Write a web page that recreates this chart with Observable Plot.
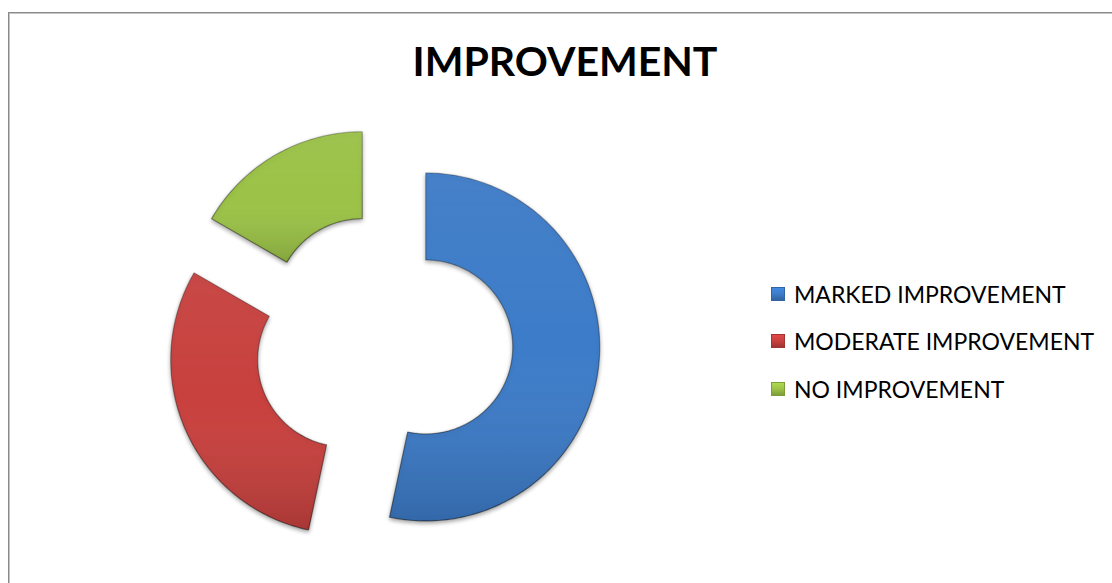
<!DOCTYPE html>
<html>
<head>
<meta charset="utf-8">
<script src="https://cdn.jsdelivr.net/npm/d3@7"></script>
<script src="https://cdn.jsdelivr.net/npm/@observablehq/plot@0.6"></script>
<style>
  html, body { margin: 0; padding: 0; background: #fff; }
  #wrap { position: relative; width: 1112px; height: 583px; overflow: hidden; font-family: Lato, "Open Sans", "DejaVu Sans", sans-serif; }
  #frame { position: absolute; left: 8px; top: 12px; width: 1200px; height: 700px; border-left: 1px solid #8a8a8a; border-top: 1px solid #8a8a8a; box-shadow: inset 1px 1px 0 #c4c4c4; pointer-events: none; }
  #title { position: absolute; left: 0; width: 1130px; top: 36px; text-align: center; font-weight: 700; font-size: 41px; color: #000; }
  #legend { position: absolute; left: 771px; top: 270px; }
  .item { display: flex; align-items: center; height: 47.5px; font-size: 23px; color: #000; white-space: nowrap; }
  .sw { width: 14px; height: 14px; margin-right: 9px; box-sizing: border-box; }
  #chart { position: absolute; left: 0; top: 0; }
  g[aria-label="line"] { filter: drop-shadow(0px 2px 2px rgba(0,0,0,0.35)); }
</style>
</head>
<body>
<div id="wrap">
  <div id="chart"></div>
  <div id="frame"></div>
  <div id="title"></div>
  <div id="legend"></div>
</div>
<script>
// ---- data ----
const title = "IMPROVEMENT";
const categories = ["MARKED IMPROVEMENT", "MODERATE IMPROVEMENT", "NO IMPROVEMENT"];
const values = [32, 18, 10];
const colors = ["#3D7CC9", "#C8413E", "#9CC347"];

// ---- geometry (in units of outer radius) ----
const W = 1112, H = 583;
const cx = 383, cy = 342, Rpx = 174;
const innerRatio = 0.5;
const explode = 0.244;

const pie = d3.pie().sort(null).value(d => d.value);
const arcs = pie(categories.map((c, i) => ({category: c, value: values[i]})));

const pts = [];
arcs.forEach(a => {
  const mid = (a.startAngle + a.endAngle) / 2;
  const ox = explode * Math.sin(mid), oy = explode * Math.cos(mid);
  const n = Math.max(8, Math.ceil((a.endAngle - a.startAngle) / (Math.PI / 180)));
  for (let k = 0; k <= n; k++) {
    const t = a.startAngle + (a.endAngle - a.startAngle) * k / n;
    pts.push({category: a.data.category, x: ox + Math.sin(t), y: oy + Math.cos(t)});
  }
  for (let k = n; k >= 0; k--) {
    const t = a.startAngle + (a.endAngle - a.startAngle) * k / n;
    pts.push({category: a.data.category, x: ox + innerRatio * Math.sin(t), y: oy + innerRatio * Math.cos(t)});
  }
});

const darker = colors.map(c => d3.color(c).darker(0.6).formatHex());

const plot = Plot.plot({
  width: W, height: H,
  margin: 0,
  x: {domain: [-cx / Rpx, (W - cx) / Rpx], axis: null},
  y: {domain: [-(H - cy) / Rpx, cy / Rpx], axis: null},
  color: {domain: categories, range: colors},
  marks: [
    Plot.line(pts, {x: "x", y: "y", z: "category", fill: "category", stroke: "category", strokeWidth: 0, curve: "linear-closed"}),
    Plot.line(pts, {x: "x", y: "y", z: "category", fill: "url(#shade)", stroke: "url(#edge)", strokeWidth: 1.2, curve: "linear-closed"})
  ]
});

// gradient defs for the bevel-like shading
const svg = d3.select(plot);
const defs = svg.insert("defs", ":first-child");
const g1 = defs.append("linearGradient").attr("id", "shade").attr("x1", 0).attr("y1", 0).attr("x2", 0).attr("y2", 1);
g1.append("stop").attr("offset", "0%").attr("stop-color", "#fff").attr("stop-opacity", 0.05);
g1.append("stop").attr("offset", "50%").attr("stop-color", "#fff").attr("stop-opacity", 0.0);
g1.append("stop").attr("offset", "100%").attr("stop-color", "#000").attr("stop-opacity", 0.12);
const g2 = defs.append("linearGradient").attr("id", "edge").attr("x1", 0).attr("y1", 0).attr("x2", 0).attr("y2", 1);
g2.append("stop").attr("offset", "0%").attr("stop-color", "#000").attr("stop-opacity", 0.25);
g2.append("stop").attr("offset", "100%").attr("stop-color", "#000").attr("stop-opacity", 0.45);

document.getElementById("chart").appendChild(plot);
document.getElementById("title").textContent = title;

const legend = d3.select("#legend");
categories.forEach((c, i) => {
  const it = legend.append("div").attr("class", "item");
  it.append("div").attr("class", "sw")
    .style("background", `linear-gradient(180deg, ${d3.color(colors[i]).brighter(0.3)} 0%, ${colors[i]} 50%, ${darker[i]} 100%)`)
    .style("border", `1px solid ${darker[i]}`);
  it.append("span").text(c);
});
</script>
</body>
</html>
